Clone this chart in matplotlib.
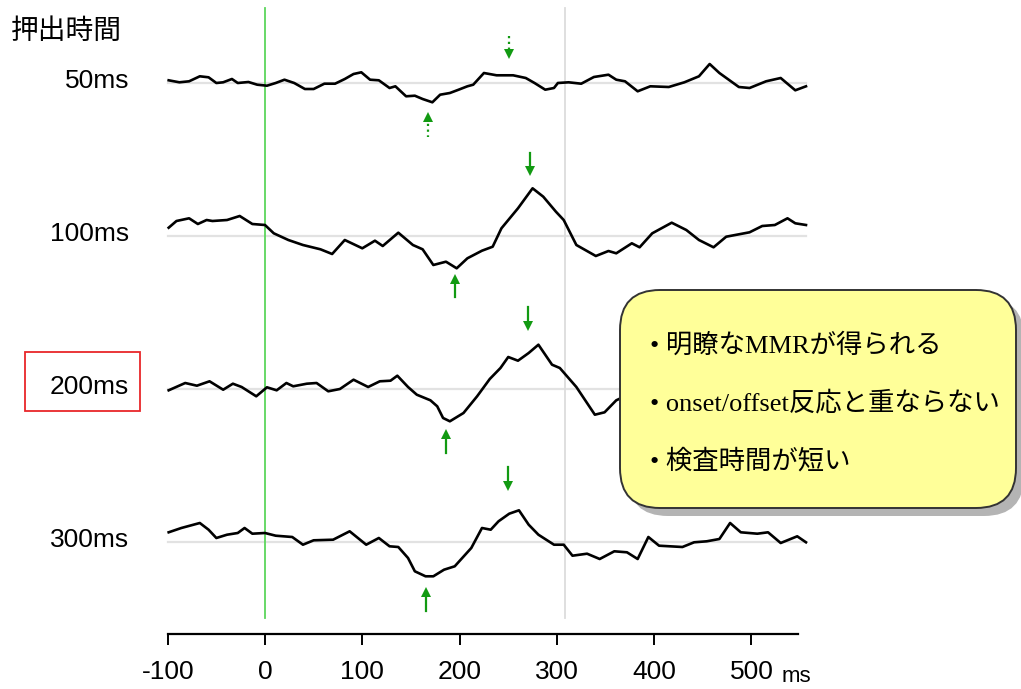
import matplotlib.pyplot as plt
from matplotlib.patches import FancyBboxPatch, Rectangle

# --- Daten ---
title = '押出時間'
labels = ['50ms', '100ms', '200ms', '300ms']

t50_ms = [-99, -88, -78, -67, -58, -50, -43, -34, -28, -17, -8, 2, 11, 20, 30, 41, 50, 61, 72, 82,
          91, 99, 108, 117, 128, 134, 145, 154, 162, 172, 180, 190, 199, 208, 214, 225, 238, 255,
          268, 277, 288, 297, 301, 312, 325, 338, 353, 361, 370, 383, 396, 415, 431, 446, 457,
          467, 487, 498, 515, 530, 545, 556]
t50_amp = [2.7, 0.7, 1.7, 6.7, 5.7, 0, 0.7, 4, 0, 1, -1.7, -2.7, 0, 3.3, 0, -6, -6, -0.7, -0.7, 4,
           9, 10.7, 3.3, 2.7, -5, -3.3, -13.3, -12.7, -16, -19.3, -11.7, -10, -6.7, -3.3, -1.7, 10,
           7.7, 7.7, 5, 0, -6.7, -5, 0, 0.7, -0.7, 6, 8.3, 3.3, 1.7, -8.3, -3.3, -4, 0.7, 6.7, 19,
           10, -4, -5, 1.7, 5, -7.3, -3.3]

t100_ms = [-99, -91, -78, -69, -60, -54, -39, -26, -13, 0, 9, 24, 39, 57, 69, 82, 100, 113, 121,
           137, 152, 162, 173, 186, 197, 208, 223, 234, 243, 260, 275, 286, 299, 307, 320, 340,
           353, 361, 377, 385, 398, 418, 433, 446, 461, 474, 498, 511, 524, 537, 545, 556]
t100_amp = [8.3, 15, 17.7, 12, 16, 15, 16, 20, 12, 11, 2.7, -4, -9, -13.3, -18, -4, -12.3, -4.7,
            -10, 3.3, -9, -13.3, -29, -25.7, -32.3, -22.3, -14.7, -10.7, 7.7, 27.7, 47.7, 39.3,
            24.3, 16, -9, -20, -15, -17.3, -7.3, -11.3, 2.7, 13.3, 6, -4, -11.3, -0.7, 3.7, 10,
            11, 17.7, 12.7, 11]

t200_ms = [-99, -82, -70, -57, -43, -33, -24, -9, 2, 12, 22, 29, 43, 53, 65, 77, 91, 106, 118,
           129, 136, 147, 156, 170, 177, 183, 190, 204, 218, 231, 242, 250, 260, 271, 281, 295,
           303, 320, 339, 349, 361, 375]
t200_amp = [-1.3, 6, 3.3, 7.7, -0.7, 5.3, 2, -7.3, 1.7, -1.3, 6, 2.7, 5.3, 6, -2.3, 0, 9.3, 2,
            7.7, 8.3, 13.3, 2, -5.7, -11.3, -17.3, -29, -32.3, -24, -7.3, 10, 21, 32, 28.3, 36,
            44.3, 24.3, 21, 2, -25.7, -23.3, -11.3, -5]

t300_ms = [-99, -86, -67, -58, -50, -39, -28, -21, -13, 0, 11, 28, 39, 50, 70, 87, 104, 117, 128,
           137, 147, 154, 165, 173, 184, 195, 212, 223, 232, 240, 251, 261, 271, 281, 297, 307,
           316, 331, 344, 359, 372, 383, 394, 405, 429, 441, 454, 467, 478, 489, 506, 517, 530,
           547, 556]
t300_amp = [9.7, 14, 19, 12.3, 4, 7.3, 9, 14, 8.3, 9, 6.3, 5, -2.7, 1.7, 2.3, 10.7, -2.7, 4, -4.3,
            -5, -16, -29.3, -34.3, -34.3, -27.7, -24.3, -6, 14, 12.3, 20.7, 28.3, 31.7, 17.3, 7.3,
            -2.7, -2.7, -13.7, -11.7, -17, -9.3, -10.3, -17, 5, -3.7, -5, -0.3, 0.7, 3, 19, 9.7,
            8.3, 9.7, -1, 5.7, -0.3]

traces_ms = [t50_ms, t100_ms, t200_ms, t300_ms]
traces_amp = [t50_amp, t100_amp, t200_amp, t300_amp]

peak_ms = [251, 272, 270, 250]     # Pfeile nach unten
trough_ms = [168, 195, 186, 165]   # Pfeile nach oben
x_ticks = [-100, 0, 100, 200, 300, 400, 500]
bullets = ['明瞭なMMRが得られる', 'onset/offset反応と重ならない', '検査時間が短い']

# --- Layout (Pixel) ---
W, H = 1021, 689
X0_PX, PX_PER_MS = 265, 0.973
baselines = [83, 236, 389, 542]
down_off = [(-47, -25), (-83, -61), (-82, -59), (-75, -52)]
up_off = [(30, 54), (39, 61), (41, 64), (46, 69)]
green = '#129a12'
FS = 19


def px2ms(px):
    return (px - X0_PX) / PX_PER_MS


def fx(px):
    return px / W


def fy(py):
    return 1 - py / H


fig = plt.figure(figsize=(W / 100, H / 100), dpi=100)
ax = fig.add_axes([0, 0, 1, 1])
ax.set_xlim(px2ms(0), px2ms(W))
ax.set_ylim(H, 0)
ax.axis('off')

# Hilfslinien
x_start, x_end = -100, px2ms(806)
for b in baselines:
    ax.plot([x_start, x_end], [b, b], color='#e2e2e2', lw=1.6, zorder=1)
ax.plot([0, 0], [8, 618], color='#5cd65c', lw=1.3, zorder=1)
ax.plot([308, 308], [8, 618], color='#dcdcdc', lw=1.3, zorder=1)

# Kurven
for b, xs, amps in zip(baselines, traces_ms, traces_amp):
    ax.plot(xs, [b - a for a in amps], color='black', lw=1.9, zorder=3,
            solid_joinstyle='round')

# Pfeile
for i, b in enumerate(baselines):
    ls = (0, (1, 1.6)) if i == 0 else '-'
    top, tip = down_off[i]
    ax.plot([peak_ms[i], peak_ms[i]], [b + top, b + tip - 5], color=green, lw=1.6, ls=ls, zorder=4)
    ax.plot(peak_ms[i], b + tip - 4, marker='v', color=green, ms=7, mew=0, zorder=4)
    tip2, bot = up_off[i]
    ax.plot([trough_ms[i], trough_ms[i]], [b + tip2 + 5, b + bot], color=green, lw=1.6, ls=ls, zorder=4)
    ax.plot(trough_ms[i], b + tip2 + 4, marker='^', color=green, ms=7, mew=0, zorder=4)

# Beschriftungen
font = ['Liberation Sans', 'Noto Sans CJK JP']
fig.text(fx(11), fy(31), title, fontsize=20, family=['Noto Sans CJK JP'], va='center', ha='left')
for b, lab in zip(baselines, labels):
    fig.text(fx(129), fy(b - 2), lab, fontsize=FS, family=font, va='center', ha='right')
fig.add_artist(Rectangle((fx(25), fy(411)), fx(140) - fx(25), fy(352) - fy(411),
                         transform=fig.transFigure, fill=False, edgecolor='#e8262a', lw=1.3))

# x-Achse
xax = fig.add_axes([fx(X0_PX + PX_PER_MS * -100), fy(634), 630.5 / W, 0.001])
xax.set_xlim(-100, 548)
for s in ['top', 'left', 'right']:
    xax.spines[s].set_visible(False)
xax.spines['bottom'].set_linewidth(1.6)
xax.set_yticks([])
xax.set_xticks(x_ticks)
xax.set_xticklabels([str(t) for t in x_ticks], fontsize=FS, family=font)
xax.tick_params(axis='x', direction='out', length=8, width=1.4, pad=11)
xax.patch.set_visible(False)
fig.text(fx(796), fy(676), 'ms', fontsize=16, family=font, ha='center', va='center')

# Sprechblase
box_x0, box_y0, box_x1, box_y1 = 620, 290, 1016, 508
for off, fc, ec, z in [(8, '#b4b4b4', 'none', 5), (0, '#ffff99', '#333333', 6)]:
    p = FancyBboxPatch((box_x0 / 100 + off / 100, (H - box_y1) / 100 - off / 100),
                       (box_x1 - box_x0) / 100, (box_y1 - box_y0) / 100,
                       boxstyle='round,pad=0,rounding_size=0.4',
                       transform=fig.dpi_scale_trans, facecolor=fc, edgecolor=ec, lw=1.4, zorder=z)
    fig.add_artist(p)

for i, txt in enumerate(bullets):
    fig.text(fx(650), fy(345 + 58 * i), '• ' + txt, fontsize=19,
             family=['Liberation Serif', 'Noto Sans CJK JP'], va='center', ha='left', zorder=7)

fig.savefig('out.png', dpi=100)
